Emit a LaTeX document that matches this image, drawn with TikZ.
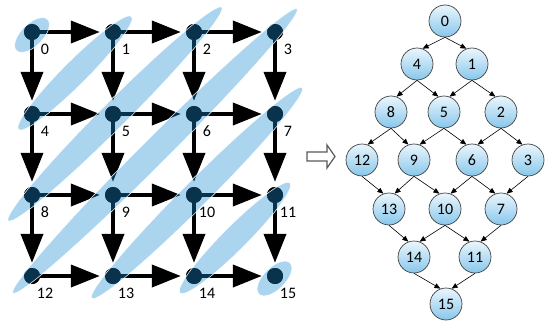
\documentclass[tikz,border=0pt]{standalone}
\usepackage{fontspec}
\setmainfont{Carlito}
\usetikzlibrary{arrows.meta,shapes.geometric}
\definecolor{ellblue}{RGB}{26,140,210}
\definecolor{ntop}{RGB}{235,246,253}
\definecolor{nbot}{RGB}{135,199,235}
\begin{document}
\begin{tikzpicture}[x=1pt,y=-1pt,
 dot/.style={circle,fill=black,inner sep=0pt,minimum size=16pt},
 glabel/.style={font=\fontsize{16}{19}\selectfont,inner sep=0pt},
 garrow/.style={line width=4pt,-{Triangle[length=29pt,width=22pt]},shorten >=5pt},
 band/.style={fill=ellblue,fill opacity=0.37,draw=white,draw opacity=0.9,line width=0.6pt},
 tnode/.style={circle,draw=black!75,line width=0.7pt,top color=ntop,bottom color=nbot,minimum size=32pt,inner sep=0pt,font=\fontsize{16}{19}\selectfont},
 tedge/.style={line width=0.6pt,-{Triangle[length=6pt,width=5pt]}},
 blockarrow/.style={draw=black!65,line width=1.2pt,fill=white}]
\useasboundingbox (0,0) rectangle (545,321);

% grid dots
\foreach \n/\x/\y in {0/32/32,1/113/32,2/194/32,3/275/32,
                      4/32/114,5/113/114,6/194/114,7/275/114,
                      8/32/195,9/113/195,10/194/195,11/275/195,
                      12/32/276,13/113/276,14/194/276,15/275/276}
  \node[dot] (d\n) at (\x,\y) {};

% grid arrows
\foreach \a/\b in {0/1,1/2,2/3,4/5,5/6,6/7,8/9,9/10,10/11,12/13,13/14,14/15,
                   0/4,1/5,2/6,3/7,4/8,5/9,6/10,7/11,8/12,9/13,10/14,11/15}
  \draw[garrow] (d\a.center) -- (d\b);

% redraw dots on top of shafts
\foreach \n in {0,...,15}
  \fill (d\n) circle (8pt);

% diagonal bands
\path[band, shift={(32,35)}, rotate=45] (0,0) ellipse [x radius=22pt, y radius=11pt];
\path[band, shift={(75,73)}, rotate=45] (0,0) ellipse [x radius=80pt, y radius=12pt];
\path[band, shift={(115,114)}, rotate=45] (0,0) ellipse [x radius=151pt, y radius=13pt];
\path[band, shift={(155,151)}, rotate=45] (0,0) ellipse [x radius=201pt, y radius=13pt];
\path[band, shift={(197,193)}, rotate=45] (0,0) ellipse [x radius=149pt, y radius=13pt];
\path[band, shift={(235,238)}, rotate=45] (0,0) ellipse [x radius=78pt, y radius=12pt];
\path[band, shift={(274.5,278.5)}, rotate=45] (0,0) ellipse [x radius=22pt, y radius=11pt];

% grid labels
\foreach \n in {0,...,15}
  \node[glabel] (l\n) at ([xshift=13pt,yshift=-17pt]d\n.center) {\n};

% block arrow
\draw[blockarrow] (307,152) -- (327,152) -- (327,145) -- (335,156.5) -- (327,168) -- (327,161) -- (307,161) -- cycle;

% tree nodes
\foreach \n/\x/\y in {0/445/21,4/417/64,1/472/64,8/391/112,5/444/112,2/501/112,
                      12/362/160,9/414/160,6/472/160,3/528/160,
                      13/389/209,10/445/209,7/501/209,14/414/257,11/475/257,15/446/304}
  \node[tnode] (t\n) at (\x,\y) {\n};

% tree edges
\foreach \p/\c/\ang in {0/4/70,0/1/110,4/8/70,4/5/110,1/5/70,1/2/110,
                        8/12/70,8/9/110,5/9/70,5/6/110,2/6/70,2/3/110,
                        12/13/110,9/13/70,9/10/110,6/10/70,6/7/110,3/7/70,
                        13/14/110,10/14/70,10/11/110,7/11/70,14/15/110,11/15/70}
  \draw[tedge] (t\p.south) -- (t\c.\ang);
\end{tikzpicture}
\end{document}
